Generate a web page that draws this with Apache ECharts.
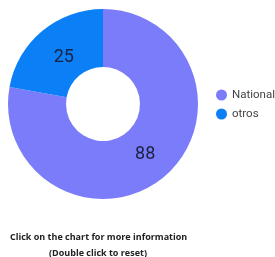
<!DOCTYPE html>
<html>
<head>
<meta charset="utf-8">
<script src="https://cdn.jsdelivr.net/npm/echarts@6/dist/echarts.min.js"></script>
<style>
  html, body { margin: 0; padding: 0; background: #fff; }
  #chart { width: 275px; height: 257px; }
</style>
</head>
<body>
<div id="chart"></div>
<script>
var categories = ['National', 'otros'];
var values = [88, 25];
var colors = ['#7b7cfa', '#0b7ff5'];

var chart = echarts.init(document.getElementById('chart'));

// label nudges so the numbers sit a bit nearer the hole, like the reference
var labelOffsets = [[-2, -2], [5, 6]];

var pieData = [];
for (var i = 0; i < categories.length; i++) {
    pieData.push({
        name: categories[i],
        value: values[i],
        itemStyle: { color: colors[i] },
        label: { offset: labelOffsets[i] }
    });
}

chart.setOption({
    animation: false,
    legend: {
        orient: 'vertical',
        left: 216,
        top: 89,
        icon: 'circle',
        itemWidth: 11,
        itemHeight: 11,
        itemGap: 7,
        padding: 0,
        textStyle: { color: '#444', fontSize: 11.5, fontFamily: 'Roboto', overflow: 'none' },
        data: categories
    },
    graphic: [{
        type: 'text',
        left: 10,
        top: 233,
        style: {
            text: 'Click on the chart for more information',
            font: 'bold 9px "Open Sans"',
            fill: '#222'
        }
    }, {
        type: 'text',
        left: 49,
        top: 249,
        style: {
            text: '(Double click to reset)',
            font: 'bold 9px "Open Sans"',
            fill: '#222'
        }
    }],
    series: [{
        type: 'pie',
        center: [103, 104],
        radius: [37, 95],
        startAngle: 90,
        clockwise: true,
        label: {
            show: true,
            position: 'inside',
            formatter: '{c}',
            color: '#1c2140',
            fontSize: 18,
            fontFamily: 'Roboto'
        },
        labelLine: { show: false },
        emphasis: { scale: false },
        data: pieData
    }]
});
</script>
</body>
</html>
